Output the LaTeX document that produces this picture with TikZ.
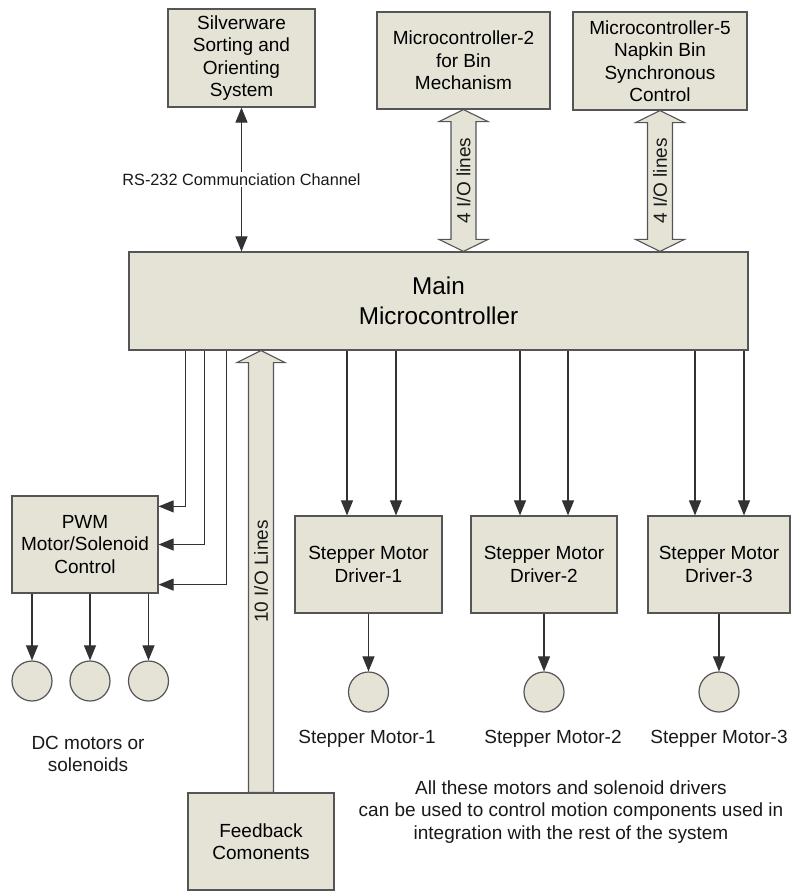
\documentclass[tikz,border=0pt]{standalone}
\usepackage{fontspec}
\setmainfont{Liberation Sans}
\usetikzlibrary{positioning,calc,arrows.meta}

\definecolor{boxfill}{RGB}{228,227,214}
\definecolor{boxline}{RGB}{85,85,85}
\definecolor{wirecol}{RGB}{50,50,50}

\tikzset{
  >={Triangle[length=15pt,width=12pt]},
  block/.style={draw=boxline, fill=boxfill, line width=1.2pt, align=center, inner sep=0pt, font=\fontsize{19}{22.5}\selectfont},
  motor/.style={circle, draw=boxline, fill=boxfill, line width=1.2pt, minimum size=40pt, inner sep=0pt},
  wire/.style={draw=wirecol, line width=1.1pt},
  bigarrow/.style={draw=boxline, fill=boxfill, line width=1.1pt, line join=miter},
  lbl/.style={align=center, text=black!90, font=\fontsize{19}{22.5}\selectfont},
}

\begin{document}
\begin{tikzpicture}[x=1pt, y=-1pt]
\useasboundingbox (0,0) rectangle (791,891);

% upper controllers
\node[block, minimum width=147pt, minimum height=98pt] (sil) at (241.5,58) {Silverware\\Sorting and\\Orienting\\System};
\node[block, minimum width=173pt, minimum height=97pt] (m2) at (463.5,60.5) {Microcontroller-2\\for Bin\\Mechanism};
\node[block, minimum width=174pt, minimum height=98pt] (m5) at (660,61) {Microcontroller-5\\Napkin Bin\\Synchronous\\Control};

% main controller
\node[block, minimum width=619pt, minimum height=98pt, font=\fontsize{24.3}{30}\selectfont] (main) at (438.5,301) {Main\\Microcontroller};

% bus arrows
\draw[bigarrow] (m2.south) -- ++(24.5,12) -- ++(-12,0) -- ($(m2.south |- main.north)+(12.5,-12)$) -- ++(12,0) -- (m2.south |- main.north) -- ++(-24.5,-12) -- ++(12,0) -- ($(m2.south)+(-12.5,12)$) -- ++(-12,0) -- cycle;
\path (m2.south) -- node[lbl, rotate=90] {4 I/O lines} (m2.south |- main.north);
\draw[bigarrow] (m5.south) -- ++(24.5,12) -- ++(-12,0) -- ($(m5.south |- main.north)+(12.5,-12)$) -- ++(12,0) -- (m5.south |- main.north) -- ++(-24.5,-12) -- ++(12,0) -- ($(m5.south)+(-12.5,12)$) -- ++(-12,0) -- cycle;
\path (m5.south) -- node[lbl, rotate=90] {4 I/O lines} (m5.south |- main.north);

% serial link
\draw[wire, <->] (sil.south) -- node[lbl, fill=white, inner sep=2pt, font=\fontsize{16.3}{19}\selectfont] {RS-232 Communciation Channel} (sil.south |- main.north);

% lower blocks
\node[block, minimum width=146pt, minimum height=97pt] (pwm) at (85,544.5) {PWM\\Motor/Solenoid\\Control};
\node[block, minimum width=147pt, minimum height=97pt] (drv1) at (368.5,564.5) {Stepper Motor\\Driver-1};
\node[block, minimum width=146pt, minimum height=97pt] (drv2) at (544,564.5) {Stepper Motor\\Driver-2};
\node[block, minimum width=142pt, minimum height=97pt] (drv3) at (719,564.5) {Stepper Motor\\Driver-3};
\node[block, minimum width=146pt, minimum height=97pt] (fb) at (261,841.5) {Feedback\\Comonents};

% feedback bus
\draw[bigarrow] ($(fb.north)+(12.5,0)$) -- ($(fb.north |- main.south)+(12.5,12)$) -- ++(11.5,0) -- (fb.north |- main.south) -- ++(-24,12) -- ++(11.5,0) -- ($(fb.north)+(-12.5,0)$) -- cycle;
\path (fb.north) -- node[lbl, rotate=90] {10 I/O Lines} (fb.north |- main.south);

% motors
\node[motor] (dc1) at (32,681) {};
\node[motor] (dc2) at (90,681) {};
\node[motor] (dc3) at (148.5,681) {};
\node[motor] (sm1) at (368.5,692) {};
\node[motor] (sm2) at (544,692) {};
\node[motor] (sm3) at (719,692) {};

% PWM lines
\draw[wire, ->] ($(main.south west)+(57,0)$) |- ($(pwm.north east)+(0,11)$);
\draw[wire, ->] ($(main.south west)+(76,0)$) |- (pwm.east);
\draw[wire, ->] ($(main.south west)+(98,0)$) |- ($(pwm.south east)+(0,-9)$);
\draw[wire, ->] (dc1.north |- pwm.south) -- (dc1.north);
\draw[wire, ->] (dc2.north |- pwm.south) -- (dc2.north);
\draw[wire, ->] (dc3.north |- pwm.south) -- (dc3.north);

% driver lines
\coordinate (d1a) at ($(drv1.north)+(-21.5,0)$);
\coordinate (d1b) at ($(drv1.north)+(27.5,0)$);
\coordinate (d2a) at ($(drv2.north)+(-24,0)$);
\coordinate (d2b) at ($(drv2.north)+(24,0)$);
\coordinate (d3a) at ($(drv3.north)+(-24,0)$);
\coordinate (d3b) at ($(drv3.north)+(25,0)$);
\draw[wire, ->] (d1a |- main.south) -- (d1a);
\draw[wire, ->] (d1b |- main.south) -- (d1b);
\draw[wire, ->] (d2a |- main.south) -- (d2a);
\draw[wire, ->] (d2b |- main.south) -- (d2b);
\draw[wire, ->] (d3a |- main.south) -- (d3a);
\draw[wire, ->] (d3b |- main.south) -- (d3b);
\draw[wire, ->] (drv1.south) -- (sm1.north);
\draw[wire, ->] (drv2.south) -- (sm2.north);
\draw[wire, ->] (drv3.south) -- (sm3.north);

% labels
\node[lbl] (dclbl) at (88,754) {DC motors or\\solenoids};
\node[lbl] (sm1lbl) at (367,739) {Stepper Motor-1};
\node[lbl] (sm2lbl) at (553,739) {Stepper Motor-2};
\node[lbl] (sm3lbl) at (719,739) {Stepper Motor-3};
\node[lbl] (note) at (571,812) {All these motors and solenoid drivers\\can be used to control motion components used in\\integration with the rest of the system};

\end{tikzpicture}
\end{document}
